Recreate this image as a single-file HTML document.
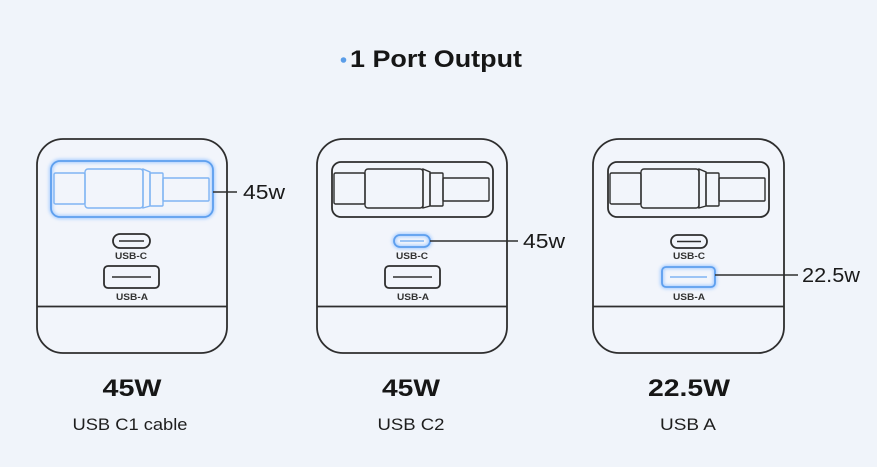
<!DOCTYPE html>
<html><head><meta charset="utf-8"><style>
html,body{margin:0;padding:0;background:#f0f4fa;}
svg{display:block;}
text{font-family:"Liberation Sans",sans-serif;}
</style></head><body>
<svg width="877" height="467" viewBox="0 0 877 467" xmlns="http://www.w3.org/2000/svg">
<defs>
<filter id="glow" x="-30%" y="-30%" width="160%" height="160%">
<feGaussianBlur stdDeviation="1.6"/>
</filter>
<g id="cable">
<rect x="17" y="173" width="31" height="31" rx="1.5"/>
<rect x="48" y="169" width="58" height="39" rx="3"/>
<path d="M106 169 L113 172 L113 206 L106 208 Z"/>
<rect x="113" y="173" width="13" height="33" rx="1"/>
<rect x="126" y="178" width="46" height="23" rx="1"/>
</g>
</defs>
<rect width="877" height="467" fill="#f0f4fa"/>

<!-- title -->
<circle cx="343.5" cy="60" r="2.8" fill="#5a9de8"/>
<text x="350" y="67" font-size="24" font-weight="bold" fill="#161616" textLength="172" lengthAdjust="spacingAndGlyphs">1 Port Output</text>

<!-- Device 1 -->
<g transform="translate(37,0)" fill="none" stroke="#2e2e2e" stroke-width="1.8">
<rect x="0" y="139" width="190" height="214" rx="26" fill="#f2f5fb"/>
<line x1="0" y1="306.5" x2="190" y2="306.5"/>
<rect x="14" y="161" width="162" height="56" rx="9" stroke="#a9ceff" stroke-width="4" filter="url(#glow)"/>
<rect x="14" y="161" width="162" height="56" rx="9" stroke="#5d9fee" stroke-width="1.8"/>
<g stroke="#7fb4f3" stroke-width="1.4"><use href="#cable"/></g>
<rect x="76" y="234" width="37" height="14" rx="7"/>
<line x1="82" y1="241" x2="107" y2="241" stroke-width="1.5"/>
<rect x="67" y="266" width="55" height="22" rx="4"/>
<line x1="75" y1="277" x2="114" y2="277" stroke-width="1.5"/>
<line x1="176" y1="192" x2="200" y2="192" stroke-width="1.4"/>
</g>
<text x="131" y="259" font-size="9" font-weight="bold" fill="#333" text-anchor="middle" textLength="32" lengthAdjust="spacingAndGlyphs">USB-C</text>
<text x="132" y="300" font-size="9" font-weight="bold" fill="#333" text-anchor="middle" textLength="32" lengthAdjust="spacingAndGlyphs">USB-A</text>
<text x="243" y="199" font-size="20" fill="#1a1a1a" textLength="42" lengthAdjust="spacingAndGlyphs">45w</text>
<text x="132" y="396" font-size="24" font-weight="bold" fill="#161616" text-anchor="middle" textLength="59" lengthAdjust="spacingAndGlyphs">45W</text>
<text x="130" y="430" font-size="17" fill="#1e1e1e" text-anchor="middle" textLength="115" lengthAdjust="spacingAndGlyphs">USB C1 cable</text>

<!-- Device 2 -->
<g transform="translate(317,0)" fill="none" stroke="#2e2e2e" stroke-width="1.8">
<rect x="0" y="139" width="190" height="214" rx="26" fill="#f2f5fb"/>
<line x1="0" y1="306.5" x2="190" y2="306.5"/>
<rect x="15" y="162" width="161" height="55" rx="9"/>
<g stroke="#2e2e2e" stroke-width="1.4"><use href="#cable"/></g>
<rect x="77" y="235" width="36" height="12" rx="6" stroke="#a9ceff" stroke-width="4" filter="url(#glow)"/>
<rect x="77" y="235" width="36" height="12" rx="6" stroke="#5d9fee" stroke-width="1.8"/>
<line x1="83" y1="241" x2="107" y2="241" stroke="#7fb4f3" stroke-width="1.5"/>
<rect x="68" y="266" width="55" height="22" rx="4"/>
<line x1="76" y1="277" x2="115" y2="277" stroke-width="1.5"/>
<line x1="113" y1="241" x2="201" y2="241" stroke-width="1.4"/>
</g>
<text x="412" y="259" font-size="9" font-weight="bold" fill="#333" text-anchor="middle" textLength="32" lengthAdjust="spacingAndGlyphs">USB-C</text>
<text x="413" y="300" font-size="9" font-weight="bold" fill="#333" text-anchor="middle" textLength="32" lengthAdjust="spacingAndGlyphs">USB-A</text>
<text x="523" y="248" font-size="20" fill="#1a1a1a" textLength="42" lengthAdjust="spacingAndGlyphs">45w</text>
<text x="411" y="396" font-size="24" font-weight="bold" fill="#161616" text-anchor="middle" textLength="58" lengthAdjust="spacingAndGlyphs">45W</text>
<text x="411" y="430" font-size="17" fill="#1e1e1e" text-anchor="middle" textLength="67" lengthAdjust="spacingAndGlyphs">USB C2</text>

<!-- Device 3 -->
<g transform="translate(593,0)" fill="none" stroke="#2e2e2e" stroke-width="1.8">
<rect x="0" y="139" width="191" height="214" rx="26" fill="#f2f5fb"/>
<line x1="0" y1="306.5" x2="191" y2="306.5"/>
<rect x="15" y="162" width="161" height="55" rx="9"/>
<g stroke="#2e2e2e" stroke-width="1.4"><use href="#cable"/></g>
<rect x="78" y="235" width="36" height="13" rx="6.5"/>
<line x1="84" y1="241.5" x2="108" y2="241.5" stroke-width="1.5"/>
<rect x="69" y="267" width="53" height="20" rx="4" stroke="#a9ceff" stroke-width="4" filter="url(#glow)"/>
<rect x="69" y="267" width="53" height="20" rx="4" stroke="#5d9fee" stroke-width="1.8"/>
<line x1="77" y1="277" x2="114" y2="277" stroke="#7fb4f3" stroke-width="1.5"/>
<line x1="122" y1="275" x2="205" y2="275" stroke-width="1.4"/>
</g>
<text x="689" y="259" font-size="9" font-weight="bold" fill="#333" text-anchor="middle" textLength="32" lengthAdjust="spacingAndGlyphs">USB-C</text>
<text x="689" y="300" font-size="9" font-weight="bold" fill="#333" text-anchor="middle" textLength="32" lengthAdjust="spacingAndGlyphs">USB-A</text>
<text x="802" y="282" font-size="20" fill="#1a1a1a" textLength="58" lengthAdjust="spacingAndGlyphs">22.5w</text>
<text x="689" y="396" font-size="24" font-weight="bold" fill="#161616" text-anchor="middle" textLength="82" lengthAdjust="spacingAndGlyphs">22.5W</text>
<text x="688" y="430" font-size="17" fill="#1e1e1e" text-anchor="middle" textLength="56" lengthAdjust="spacingAndGlyphs">USB A</text>
</svg>
</body></html>
